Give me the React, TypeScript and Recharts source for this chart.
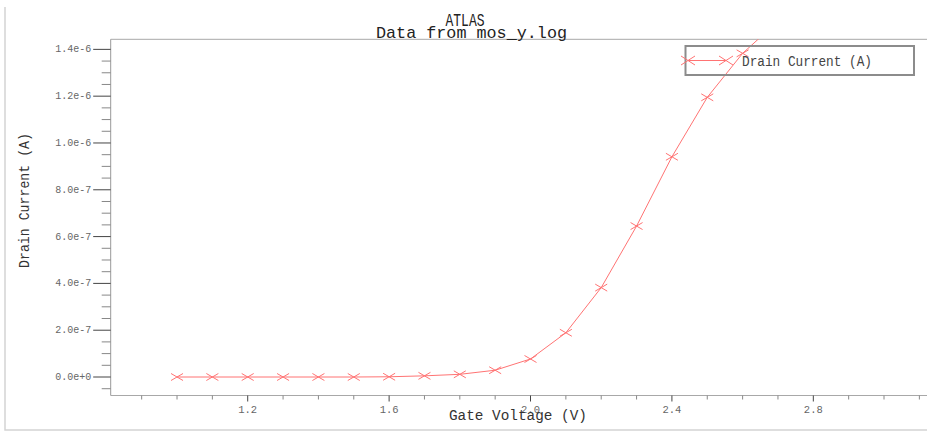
import { LineChart, Line, XAxis, YAxis, ReferenceLine } from 'recharts';

// gate voltage sweep (V) and measured drain current (A)
const VOLTAGE = [1.0, 1.1, 1.2, 1.3, 1.4, 1.5, 1.6, 1.7, 1.8, 1.9, 2.0, 2.1, 2.2, 2.3, 2.4, 2.5, 2.6, 2.7];
const CURRENT = [
  0, 0, 0, 0, 0, 0, 0.1e-8, 0.5e-8, 1.15e-8, 2.9e-8, 7.7e-8, 1.89e-7, 3.82e-7, 6.45e-7, 9.41e-7,
  1.195e-6, 1.383e-6, 1.52e-6,
];

const X_TICKS = [
  0.9, 1.0, 1.1, 1.2, 1.3, 1.4, 1.5, 1.6, 1.7, 1.8, 1.9, 2.0, 2.1, 2.2, 2.3, 2.4, 2.5, 2.6, 2.7, 2.8,
  2.9, 3.0, 3.1,
];
const X_MAJOR = [1.2, 1.6, 2.0, 2.4, 2.8];
const X_LABELS = ['1.2', '1.6', '2.0', '2.4', '2.8'];

const Y_TICKS = [
  -5e-8, 0, 5e-8, 1e-7, 1.5e-7, 2e-7, 2.5e-7, 3e-7, 3.5e-7, 4e-7, 4.5e-7, 5e-7, 5.5e-7, 6e-7, 6.5e-7,
  7e-7, 7.5e-7, 8e-7, 8.5e-7, 9e-7, 9.5e-7, 1e-6, 1.05e-6, 1.1e-6, 1.15e-6, 1.2e-6, 1.25e-6, 1.3e-6,
  1.35e-6, 1.4e-6,
];
const Y_MAJOR = [0, 2e-7, 4e-7, 6e-7, 8e-7, 1e-6, 1.2e-6, 1.4e-6];
const Y_LABELS = ['0.0e+0', '2.0e-7', '4.0e-7', '6.0e-7', '8.0e-7', '1.0e-6', '1.2e-6', '1.4e-6'];

const X_DOMAIN = [0.8124, 3.1216];
const Y_MIN = -7.9e-8;
const Y_MAX = 1.443e-6;

const data = VOLTAGE.map((v, i) => ({ v, current: CURRENT[i] }));

const MONO = '"Liberation Mono", "DejaVu Sans Mono", monospace';
const RED = '#ff7373';

const findMajor = (list: number[], value: number, eps: number) =>
  list.findIndex((m) => Math.abs(m - value) < eps);

function XTick(props: any) {
  const { x, y, payload } = props;
  const idx = findMajor(X_MAJOR, payload.value, 1e-6);
  const major = idx >= 0;
  return (
    <g>
      <line x1={x} x2={x} y1={y} y2={y + (major ? 6 : 4)} stroke={major ? '#444' : '#888'} />
      {major && (
        <text x={x} y={y + 14} textAnchor='middle' dominantBaseline='central' fontSize={10.5} fill='#666' fontFamily={MONO}>
          {X_LABELS[idx]}
        </text>
      )}
    </g>
  );
}

function YTick(props: any) {
  const { x, y, payload } = props;
  const idx = findMajor(Y_MAJOR, payload.value, 1e-10);
  const major = idx >= 0;
  return (
    <g>
      <line x1={x - (major ? 17.5 : 9)} x2={x} y1={y} y2={y} stroke={major ? '#444' : '#888'} />
      {major && (
        <text x={x - 19.5} y={y} textAnchor='end' dominantBaseline='central' fontSize={10.5} fill='#666' fontFamily={MONO} textLength={36} lengthAdjust='spacingAndGlyphs'>
          {Y_LABELS[idx]}
        </text>
      )}
    </g>
  );
}

function XMark({ cx, cy, w = 6, h = 3.5 }: { cx: number; cy: number; w?: number; h?: number }) {
  if (cx == null || cy == null) return null;
  return (
    <path
      d={`M${cx - w},${cy - h}L${cx + w},${cy + h}M${cx - w},${cy + h}L${cx + w},${cy - h}`}
      stroke={RED}
      strokeWidth={1}
      fill='none'
    />
  );
}

function Overlay() {
  return (
    <svg width={927} height={432} style={{ position: 'absolute', left: 0, top: 0, pointerEvents: 'none' }}>
      {/* outer screenshot frame */}
      <path d='M5,7 L5,430 L927,430' stroke='#d4d4d4' strokeWidth={1.5} fill='none' />
      <text x={465} y={26} textAnchor='middle' fontSize={18} fill='#222' fontFamily={MONO} textLength={39} lengthAdjust='spacingAndGlyphs'>
        ATLAS
      </text>
      <text x={471.5} y={37.5} textAnchor='middle' fontSize={17} fill='#222' fontFamily={MONO} textLength={191} lengthAdjust='spacingAndGlyphs'>
        Data from mos_y.log
      </text>
      <text x={518} y={420} textAnchor='middle' fontSize={15.5} fill='#333' fontFamily={MONO} textLength={138} lengthAdjust='spacingAndGlyphs'>
        Gate Voltage (V)
      </text>
      <text
        x={0}
        y={0}
        transform='translate(29,200.5) rotate(-90)'
        textAnchor='middle'
        fontSize={14.5}
        fill='#333'
        fontFamily={MONO}
        textLength={135}
        lengthAdjust='spacingAndGlyphs'
      >
        Drain Current (A)
      </text>
      {/* legend */}
      <rect x={685.5} y={46} width={228.5} height={29} fill='none' stroke='#8c8c8c' strokeWidth={2} />
      <line x1={688} x2={726} y1={60.5} y2={60.5} stroke={RED} />
      <XMark cx={688} cy={60.5} w={7} h={4.5} />
      <XMark cx={726} cy={60.5} w={7} h={4.5} />
      <text x={742} y={65.5} fontSize={14} fill='#444' fontFamily={MONO} textLength={130} lengthAdjust='spacingAndGlyphs'>
        Drain Current (A)
      </text>
    </svg>
  );
}

export default function App() {
  return (
    <div style={{ position: 'absolute', left: 0, top: 0, width: 927, height: 432, background: '#fff' }}>
      <LineChart width={927} height={432} data={data} margin={{ top: 39.3, right: 0, bottom: 0, left: 0 }}>
        <XAxis
          dataKey='v'
          type='number'
          domain={X_DOMAIN}
          ticks={X_TICKS}
          interval={0}
          allowDataOverflow
          height={36.5}
          tickLine={false}
          tickSize={0}
          tickMargin={0}
          axisLine={{ stroke: '#a8a8a8' }}
          tick={(p: any) => <XTick {...p} />}
        />
        <YAxis
          type='number'
          domain={[Y_MIN, Y_MAX]}
          ticks={Y_TICKS}
          interval={0}
          allowDataOverflow
          width={110.7}
          tickLine={false}
          tickSize={0}
          tickMargin={0}
          axisLine={{ stroke: '#999' }}
          tick={(p: any) => <YTick {...p} />}
        />
        <ReferenceLine y={Y_MAX} stroke='#a8a8a8' />
        <Line
          dataKey='current'
          type='linear'
          stroke={RED}
          strokeWidth={1}
          dot={(p: any) => <XMark key={p.index} cx={p.cx} cy={p.cy} />}
          isAnimationActive={false}
        />
      </LineChart>
      <Overlay />
    </div>
  );
}
